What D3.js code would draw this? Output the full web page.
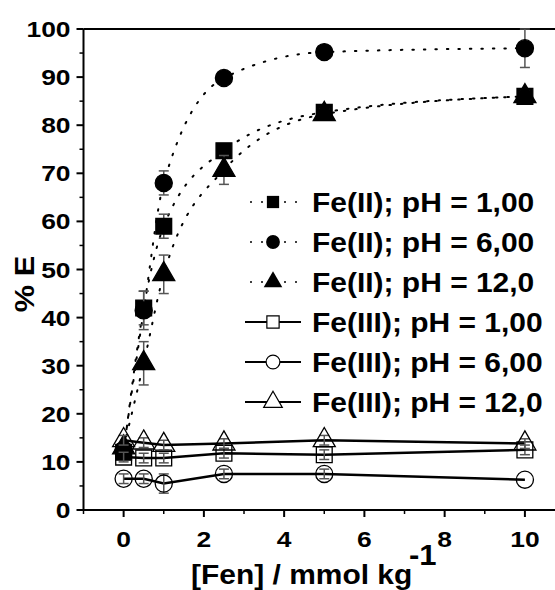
<!DOCTYPE html>
<html lang="en">
<head>
<meta charset="UTF-8">
<title>% E vs [Fen]</title>
<script src="https://d3js.org/d3.v7.min.js"></script>
<style>
    body { margin: 0; background: #fff; }
    svg { font-family: "Liberation Sans", Arial, sans-serif; font-weight: bold; }
</style>
</head>
<body>
<svg width="555" height="590"></svg>
<script>
const xValues = [0, 0.5, 1, 2.5, 5, 10];
const xTicks = [0, 2, 4, 6, 8, 10];
const yTicks = [0, 10, 20, 30, 40, 50, 60, 70, 80, 90, 100];

const feII_pH1  = [12.0, 42.0, 59.0, 74.7, 82.7, 86.0];
const feII_pH1_err = [1.0, 3.5, 2.5, 1.2, 1.5, 1.0];
const feII_pH6  = [12.5, 41.5, 68.0, 89.8, 95.2, 96.0];
const feII_pH6_err = [1.0, 4.0, 2.5, 0.5, 0.5, 4.0];
const feII_pH12 = [13.0, 30.5, 49.0, 70.7, 82.3, 86.0];
const feII_pH12_err = [1.0, 4.5, 4.0, 3.0, 1.0, 1.0];
const feIII_pH1  = [11.0, 10.8, 10.8, 11.8, 11.5, 12.5];
const feIII_pH1_err = [1.0, 1.0, 1.0, 1.0, 1.0, 1.0];
const feIII_pH6  = [6.5, 6.5, 5.5, 7.5, 7.5, 6.3];
const feIII_pH6_err = [1.0, 1.0, 2.0, 1.0, 1.0, 0.0];
const feIII_pH12 = [14.5, 14.0, 13.5, 13.8, 14.5, 13.8];
const feIII_pH12_err = [1.0, 1.0, 1.0, 1.0, 1.0, 1.0];

const series = [
    { name: "Fe(II); pH = 1,00", y: feII_pH1, err: feII_pH1_err, shape: "square", filled: true },
    { name: "Fe(II); pH = 6,00", y: feII_pH6, err: feII_pH6_err, shape: "circle", filled: true },
    { name: "Fe(II); pH = 12,0", y: feII_pH12, err: feII_pH12_err, shape: "triangle", filled: true },
    { name: "Fe(III); pH = 1,00", y: feIII_pH1, err: feIII_pH1_err, shape: "square", filled: false },
    { name: "Fe(III); pH = 6,00", y: feIII_pH6, err: feIII_pH6_err, shape: "circle", filled: false },
    { name: "Fe(III); pH = 12,0", y: feIII_pH12, err: feIII_pH12_err, shape: "triangle", filled: false }
];

const svg = d3.select("svg");
const x = d3.scaleLinear().domain([-1, 10.75]).range([83.5, 555]);
const y = d3.scaleLinear().domain([0, 100]).range([510, 29]);

const symType = { square: d3.symbolSquare, circle: d3.symbolCircle, triangle: d3.symbolTriangle };
const symSize = { square: 250, circle: 230, triangle: 210 };
const legSize = { square: 150, circle: 150, triangle: 150 };

// text drawn a bit wider than the font, like the original export
function addText(parent, tx, ty, str, size, anchor, sx, rot) {
    const g = parent.append("g")
        .attr("transform", `translate(${tx},${ty})${rot ? ` rotate(${rot})` : ""} scale(${sx},1)`);
    return g.append("text").attr("font-size", size).attr("text-anchor", anchor || "start").text(str);
}

// top frame line
svg.append("line").attr("x1", x(-1)).attr("x2", 555).attr("y1", y(100)).attr("y2", y(100))
    .attr("stroke", "#000").attr("stroke-width", 2);

// x axis
const xAxis = svg.append("g").attr("transform", `translate(0,${y(0)})`);
xAxis.append("line").attr("x1", x(-1)).attr("x2", 555).attr("stroke", "#000").attr("stroke-width", 2);
xAxis.selectAll(".major").data(xTicks).enter().append("line")
    .attr("x1", d => x(d)).attr("x2", d => x(d)).attr("y1", 0).attr("y2", 7)
    .attr("stroke", "#000").attr("stroke-width", 2);
xAxis.selectAll(".minor").data(d3.range(-1, 11, 2)).enter().append("line")
    .attr("x1", d => x(d)).attr("x2", d => x(d)).attr("y1", 0).attr("y2", 4)
    .attr("stroke", "#000").attr("stroke-width", 1.5);
xTicks.forEach(d => addText(xAxis, x(d), 37, d, 22, "middle", 1.2));

// y axis
const yAxis = svg.append("g").attr("transform", `translate(${x(-1)},0)`);
yAxis.append("line").attr("y1", y(0)).attr("y2", y(100)).attr("stroke", "#000").attr("stroke-width", 2);
yAxis.selectAll(".major").data(yTicks).enter().append("line")
    .attr("y1", d => y(d)).attr("y2", d => y(d)).attr("x1", 0).attr("x2", -7)
    .attr("stroke", "#000").attr("stroke-width", 2);
yAxis.selectAll(".minor").data(d3.range(5, 100, 10)).enter().append("line")
    .attr("y1", d => y(d)).attr("y2", d => y(d)).attr("x1", 0).attr("x2", -4)
    .attr("stroke", "#000").attr("stroke-width", 1.5);
yTicks.forEach(d => addText(yAxis, -13, y(d) + 8, d, 22, "end", 1.2));

// axis titles
addText(svg, 34, 284, "% E", 28, "middle", 1.1, -90);
addText(svg, 191, 584, "[Fen] / mmol kg", 28, "start", 1.07);
addText(svg, 409, 565, "-1", 29, "start", 1.07);

// lines
const line = d3.line().x((d, i) => x(xValues[i])).y(d => y(d));
series.forEach(s => {
    svg.append("path").datum(s.y)
        .attr("fill", "none").attr("stroke", "#000")
        .attr("stroke-width", s.filled ? 2 : 2.5)
        .attr("stroke-dasharray", s.filled ? "1.5,10" : null)
        .attr("stroke-linecap", s.filled ? "round" : "butt")
        .attr("d", s.filled ? line.curve(d3.curveMonotoneX)(s.y) : line.curve(d3.curveLinear)(s.y));
});

// error bars and markers
series.forEach(s => {
    const g = svg.append("g");
    s.y.forEach((v, i) => {
        const e = s.err[i];
        if (e <= 0) return;
        const cx = x(xValues[i]);
        g.append("line").attr("x1", cx).attr("x2", cx).attr("y1", y(v - e)).attr("y2", y(v + e))
            .attr("stroke", "#555").attr("stroke-width", 1.5);
        [v - e, v + e].forEach(b => g.append("line")
            .attr("x1", cx - 5).attr("x2", cx + 5).attr("y1", y(b)).attr("y2", y(b))
            .attr("stroke", "#555").attr("stroke-width", 1.5));
    });
    s.y.forEach((v, i) => {
        g.append("path").attr("d", d3.symbol().type(symType[s.shape]).size(symSize[s.shape])())
            .attr("transform", `translate(${x(xValues[i])},${y(v)})`)
            .attr("fill", s.filled ? "#000" : "none")
            .attr("stroke", "#000").attr("stroke-width", 1.3);
    });
});

// legend
const legend = svg.append("g");
series.forEach((s, i) => {
    const ly = 202 + i * 40;
    const row = legend.append("g").attr("transform", `translate(0,${ly})`);
    if (s.filled) {
        [251, 262, 285, 296].forEach(dx => row.append("circle")
            .attr("cx", dx).attr("cy", 0).attr("r", 1).attr("fill", "#000"));
    } else {
        row.append("line").attr("x1", 245).attr("x2", 301).attr("stroke", "#000").attr("stroke-width", 2);
    }
    row.append("path").attr("d", d3.symbol().type(symType[s.shape]).size(legSize[s.shape])())
        .attr("transform", "translate(273,0)")
        .attr("fill", s.filled ? "#000" : "#fff")
        .attr("stroke", "#000").attr("stroke-width", s.filled ? 0 : 1.2);
    addText(row, 312, 10, s.name, 27, "start", 1.11);
});
</script>
</body>
</html>
